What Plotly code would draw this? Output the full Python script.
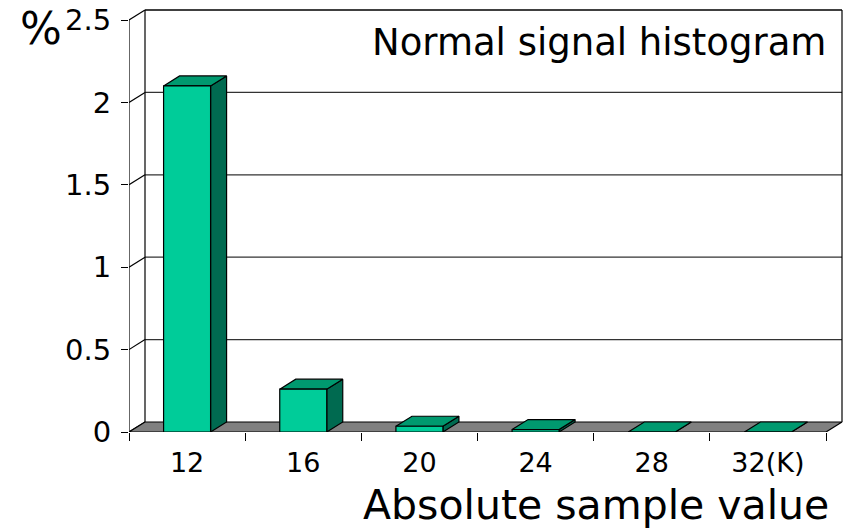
import plotly.graph_objects as go

# --- data -----------------------------------------------------------------
categories = ["12", "16", "20", "24", "28", "32(K)"]
percent = [2.1, 0.26, 0.035, 0.015, 0.0, 0.0]
y_ticks = [0, 0.5, 1, 1.5, 2, 2.5]
y_tick_labels = ["0", "0.5", "1", "1.5", "2", "2.5"]

# --- layout constants ------------------------------------------------------
W, H = 850, 529
M_L, M_R, M_T, M_B = 129, 4, 4, 97
PX_PER_X = 697 / len(categories)          # pixels per category
PX_PER_Y = 412 / 2.5                      # pixels per percent unit
DX = 16 / PX_PER_X                        # depth offset (x, data units)
DY = 10 / PX_PER_Y                        # depth offset (y, data units)
HALF_W = 23.5 / PX_PER_X                  # half bar width

x_lo = -0.5
x_hi = x_lo + (W - M_L - M_R) / PX_PER_X
y_lo = 0.0
y_hi = (H - M_T - M_B) / PX_PER_Y

FRONT = "#00CC99"
TOP = "#00996F"
SIDE = "#006A50"
FLOOR = "#808080"
GRID = "#333333"
FONT = "DejaVu Sans"

n = len(categories)
x_left, x_right = -0.5, n - 0.5

fig = go.Figure()


def poly(xs, ys, fill, line_color="black", width=1.2):
    fig.add_trace(go.Scatter(
        x=xs + [xs[0]], y=ys + [ys[0]], mode="lines", fill="toself",
        fillcolor=fill, line=dict(color=line_color, width=width),
        hoverinfo="skip", showlegend=False))


def seg(xs, ys, color="black", width=1.2):
    fig.add_trace(go.Scatter(
        x=xs, y=ys, mode="lines", line=dict(color=color, width=width),
        hoverinfo="skip", showlegend=False))


# back wall: gridlines and their slanted links to the front axis
for v in y_ticks[1:]:
    seg([x_left + DX, x_right + DX], [v + DY, v + DY],
        color="black" if v == y_ticks[-1] else GRID, width=1.3)
for v in y_ticks:
    seg([x_left, x_left + DX], [v, v + DY])
# wall edges
seg([x_left + DX, x_left + DX], [DY, y_ticks[-1] + DY])
seg([x_right + DX, x_right + DX], [DY, y_ticks[-1] + DY])
# front value axis
seg([x_left, x_left], [0, y_ticks[-1]])

# floor
poly([x_left, x_right, x_right + DX, x_left + DX], [0, 0, DY, DY], FLOOR)

# bars: front, top and side faces
for i, v in enumerate(percent):
    x0, x1 = i - HALF_W, i + HALF_W
    poly([x1, x1 + DX, x1 + DX, x1], [0, DY, v + DY, v], SIDE)
    poly([x0, x1, x1 + DX, x0 + DX], [v, v, v + DY, v + DY], TOP)
    poly([x0, x1, x1, x0], [0, 0, v, v], FRONT)

fig.update_layout(
    width=W, height=H,
    margin=dict(l=M_L, r=M_R, t=M_T, b=M_B, pad=0),
    paper_bgcolor="white", plot_bgcolor="white",
    font=dict(family=FONT, color="black"),
    xaxis=dict(
        range=[x_lo, x_hi], fixedrange=True,
        showgrid=False, zeroline=False, showline=False,
        tickmode="array", tickvals=list(range(n)), ticktext=categories,
        ticks="", tickfont=dict(size=27, family=FONT, color="black"),
        ticklabelstandoff=12,
        minor=dict(tickmode="array",
                   tickvals=[k - 0.5 for k in range(n + 1)],
                   ticks="outside", ticklen=8, tickwidth=1.2,
                   tickcolor="black", showgrid=False),
    ),
    yaxis=dict(
        range=[y_lo, y_hi], fixedrange=True,
        showgrid=False, zeroline=False, showline=False,
        tickmode="array", tickvals=y_ticks, ticktext=y_tick_labels,
        ticks="outside", ticklen=7, tickwidth=1.2, tickcolor="black",
        tickfont=dict(size=29, family=FONT, color="black"),
        ticklabelstandoff=4,
    ),
    annotations=[
        dict(text="Normal signal histogram", xref="paper", yref="paper",
             x=(828 - M_L) / (W - M_L - M_R), y=(H - M_B - 43) / (H - M_T - M_B),
             xanchor="right", yanchor="middle", showarrow=False,
             font=dict(size=37, family=FONT, color="black")),
        dict(text="Absolute sample value", xref="paper", yref="paper",
             x=(596 - M_L) / (W - M_L - M_R), y=(H - M_B - 505) / (H - M_T - M_B),
             xanchor="center", yanchor="middle", showarrow=False,
             font=dict(size=41, family=FONT, color="black")),
        dict(text="%", xref="paper", yref="paper",
             x=(41 - M_L) / (W - M_L - M_R), y=(H - M_B - 28) / (H - M_T - M_B),
             xanchor="center", yanchor="middle", showarrow=False,
             font=dict(size=44, family=FONT, color="black")),
    ],
)

fig.write_html("out.html")
